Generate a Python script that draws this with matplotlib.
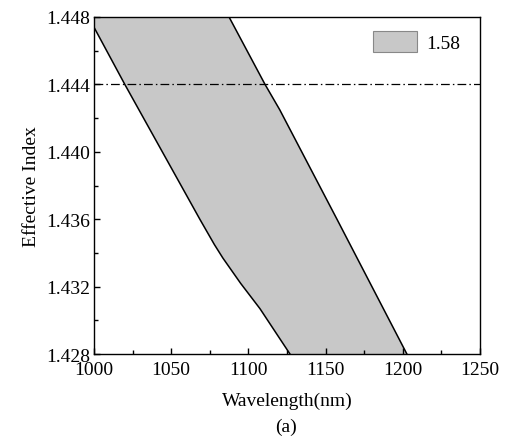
import numpy as np
import matplotlib.pyplot as plt
from matplotlib.ticker import MultipleLocator, FormatStrFormatter
from matplotlib.patches import Patch

plt.rcParams['font.family'] = ['Liberation Serif', 'DejaVu Serif']

# left (short wavelength) boundary of the band
left_wl = [995, 1000, 1020, 1068.6, 1078, 1083.5, 1095, 1107.5, 1127]
left_n = [1.4482, 1.4474, 1.444, 1.436, 1.4345, 1.4337, 1.4322, 1.4307, 1.428]
# right (long wavelength) boundary of the band
right_wl = [1087.5, 1110.8, 1120.3, 1157.4, 1202.7]
right_n = [1.448, 1.444, 1.4425, 1.436, 1.428]

cutoff = 1.444
label = '1.58'

fig = plt.figure(figsize=(5.05, 4.39), dpi=100)
ax = fig.add_axes([0.186, 0.191, 0.7645, 0.768])

poly_x = np.r_[left_wl, right_wl[::-1]]
poly_y = np.r_[left_n, right_n[::-1]]
ax.fill(poly_x, poly_y, color='#c8c8c8', lw=0)
ax.plot(left_wl, left_n, color='black', lw=1.1)
ax.plot(right_wl, right_n, color='black', lw=1.1)
ax.axhline(cutoff, color='black', lw=0.9, ls=(0, (7, 2.5, 1.2, 2.5)))

ax.set_xlim(1000, 1250)
ax.set_ylim(1.428, 1.448)
ax.xaxis.set_major_locator(MultipleLocator(50))
ax.xaxis.set_minor_locator(MultipleLocator(25))
ax.yaxis.set_major_locator(MultipleLocator(0.004))
ax.yaxis.set_minor_locator(MultipleLocator(0.002))
ax.yaxis.set_major_formatter(FormatStrFormatter('%.3f'))
ax.tick_params(which='both', direction='in', labelsize=14)
ax.tick_params(axis='x', pad=5)
ax.tick_params(axis='y', pad=3)
ax.tick_params(which='major', length=4, width=1)
ax.tick_params(which='minor', length=3, width=1)
for s in ax.spines.values():
    s.set_linewidth(1)

ax.set_xlabel('Wavelength(nm)', fontsize=14, labelpad=10)
ax.set_ylabel('Effective Index', fontsize=14, labelpad=4)
fig.text(0.567, 0.027, '(a)', fontsize=14, ha='center', va='center')

handle = Patch(facecolor='#c8c8c8', edgecolor='#888888', lw=0.8)
ax.legend([handle], [label], loc='upper right', bbox_to_anchor=(0.985, 1),
          frameon=False, fontsize=14, handlelength=2.25, handleheight=1.3,
          handletextpad=0.5, borderaxespad=0.3, borderpad=0.4)

fig.savefig('out.png', dpi=100)
